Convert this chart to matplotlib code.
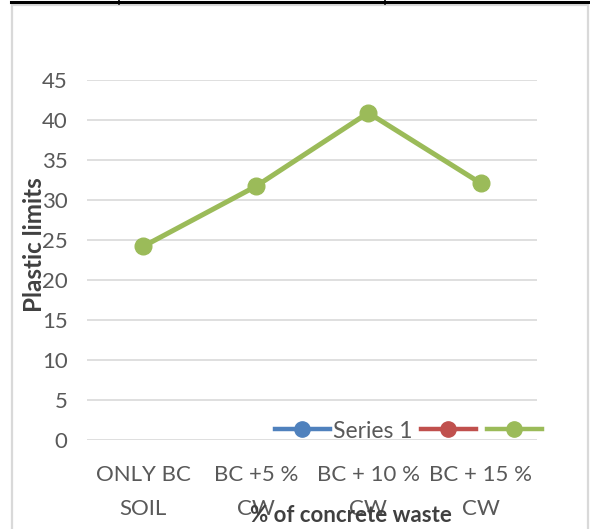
import matplotlib
matplotlib.use("Agg")
import matplotlib.pyplot as plt
from matplotlib.lines import Line2D
from matplotlib.patches import Rectangle

categories = ["ONLY BC\nSOIL", "BC +5 %\nCW", "BC + 10 %\nCW", "BC + 15 %\nCW"]
plastic_limits = [24.2, 31.7, 40.9, 32.1]
y_ticks = [0, 5, 10, 15, 20, 25, 30, 35, 40, 45]
legend_labels = ["Series 1", "", ""]
legend_colors = ["#4f81bd", "#c0504d", "#9bbb59"]

plt.rcParams['font.family'] = ['Lato', 'DejaVu Sans']

W, H = 590, 529
fig = plt.figure(figsize=(W / 100, H / 100), dpi=100)
fig.patch.set_facecolor("white")

# outer chart frame
fig.add_artist(Rectangle((12 / W, -0.01), (588 - 12) / W, (H - 5) / H + 0.01,
                         transform=fig.transFigure, fill=False,
                         edgecolor="#d9d9d9", linewidth=1.6))
# table border on top
fig.add_artist(Line2D([11 / W, 1.0], [1 - 1.5 / H, 1 - 1.5 / H],
                      transform=fig.transFigure, color="black", linewidth=2.2))
for xv in (119, 385):
    fig.add_artist(Line2D([xv / W, xv / W], [1 - 4 / H, 1.0],
                          transform=fig.transFigure, color="black", linewidth=1.2))

ax = fig.add_axes([87 / W, 1 - 440 / H, (537 - 87) / W, (440 - 80) / H])
x = list(range(len(categories)))
ax.plot(x, plastic_limits, color="#9bbb59", linewidth=3.6, marker="o",
        markersize=12, zorder=3, solid_capstyle="round")

ax.set_xlim(-0.5, len(categories) - 0.5)
ax.set_ylim(0, 45)
ax.set_yticks(y_ticks)
ax.set_xticks(x)
ax.set_xticklabels(categories, linespacing=1.9)
ax.grid(axis="y", color="#d9d9d9", linewidth=1.2)
ax.set_axisbelow(True)
for s in ax.spines.values():
    s.set_visible(False)
ax.tick_params(axis="both", length=0, labelsize=16, labelcolor="#595959")
ax.tick_params(axis="y", pad=14)
ax.tick_params(axis="x", pad=18)

fig.text(351 / W, 1 - 516 / H, "% of concrete waste", ha="center", va="center",
         fontsize=16, fontweight="bold", color="#404040")
fig.text(34 / W, 1 - 245 / H, "Plastic limits", ha="center", va="center",
         rotation=90, fontsize=17.5, fontweight="bold", color="#404040")

handles = [Line2D([0], [0], color=c, linewidth=3.2, marker="o", markersize=11)
           for c in legend_colors]
fig.legend(handles, legend_labels, loc="center", bbox_to_anchor=(410 / W, 1 - 431 / H),
           ncol=3, frameon=False, fontsize=16.5, labelcolor="#595959",
           handlelength=2.4, handletextpad=0.15, columnspacing=0.35,
           borderpad=0, borderaxespad=0)

fig.savefig("out.png", dpi=100)
